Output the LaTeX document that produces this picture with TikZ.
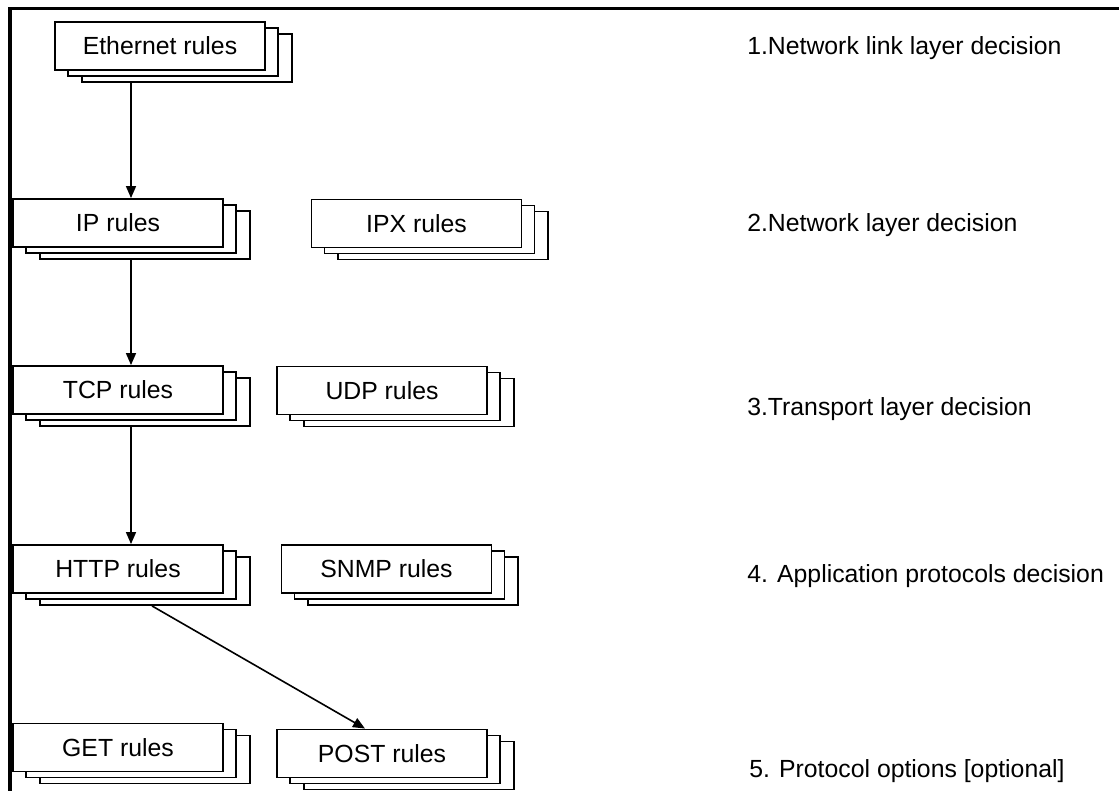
\documentclass[tikz,border=0pt]{standalone}
\usepackage{fontspec}
\setmainfont{Liberation Sans}
\usetikzlibrary{calc,shadows,arrows.meta}

\tikzset{
	rulebox/.style={draw=black, fill=white, line width=1.4pt, minimum width=157.5pt, minimum height=36pt, inner sep=0pt,
		copy shadow={shadow xshift=20pt, shadow yshift=-9pt, draw=black, fill=white, line width=1.4pt},
		copy shadow={shadow xshift=9.75pt, shadow yshift=-4.5pt, draw=black, fill=white, line width=1.4pt}},
	layertext/.style={anchor=base west, inner sep=0pt},
	link/.style={line width=1.2pt, -{Triangle[length=9pt,width=7.5pt]}}
}

\begin{document}
\begin{tikzpicture}[x=0.75pt, y=-0.75pt, font=\fontsize{18.6}{22}\selectfont]
			%%%%% START %%%%%
			
			\useasboundingbox (0, 0) rectangle (1119, 791);
			\draw[line width=2.6pt] (10, 791) -- (10, 8.5) -- (1119, 8.5);
			
			\node[rulebox] (eth) at (160, 46) {Ethernet rules};
			
			\node[rulebox] (ip) at (118, 223) {IP rules};
			\node[rulebox] (ipx) at (416.5, 223.5) {IPX rules};
			
			\node[rulebox] (tcp) at (118, 390) {TCP rules};
			\node[rulebox] (udp) at (382, 390.5) {UDP rules};
			
			\node[rulebox] (http) at (118, 569) {HTTP rules};
			\node[rulebox] (snmp) at (386.5, 569) {SNMP rules};
			
			\node[rulebox] (get) at (118, 747.5) {GET rules};
			\node[rulebox] (post) at (382, 753.5) {POST rules};
			
			\node[layertext] (lay1) at (747, 55) {1.Network link layer decision};
			\node[layertext] (lay2) at (747, 232) {2.Network layer decision};
			\node[layertext] (lay3) at (747, 415) {3.Transport layer decision};
			\node[layertext] (lay4) at (747, 582) {4. Application protocols decision};
			\node[layertext] (lay5) at (749, 777) {5. Protocol options [optional]};
			
			\draw[link] ($(ip.north |- eth.south)+(13, 12)$) -- ($(ip.north)+(13, 0)$);
			\draw[link] ($(ip.south)+(13, 12)$) -- ($(tcp.north)+(13, 0)$);
			\draw[link] ($(tcp.south)+(13, 12)$) -- ($(http.north)+(13, 0)$);
			\draw[link] ($(http.south)+(34, 12)$) -- ($(post.north)+(-17, 0)$);
			
			%%%%% END %%%%%
		\end{tikzpicture}
\end{document}
